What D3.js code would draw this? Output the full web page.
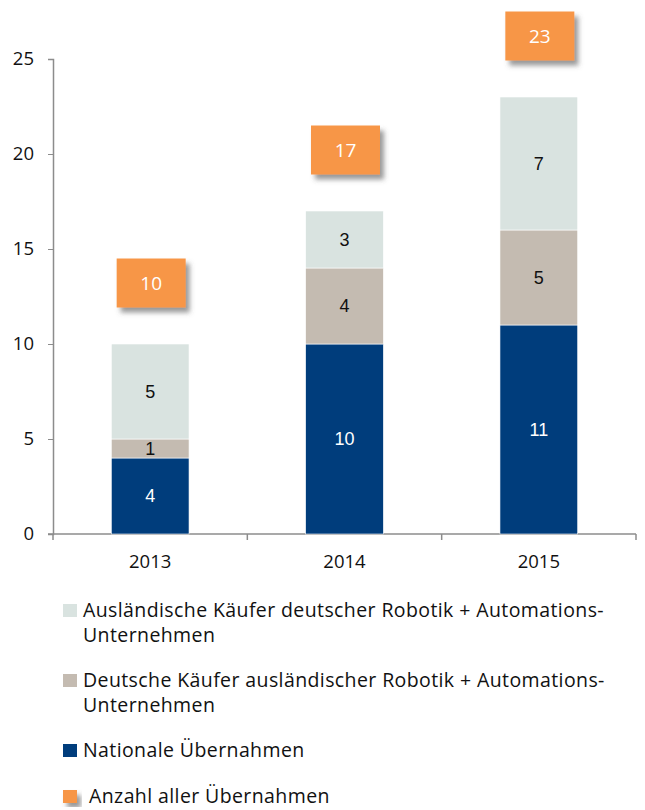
<!DOCTYPE html>
<meta charset="utf-8">
<style>
  body { margin: 0; background: #fff; }
  svg text { font-family: 'Open Sans', 'Noto Sans', sans-serif; }
  .axis path, .axis line { stroke: #8c8c8c; }
</style>
<body>
<div class="viz"></div>
<script src="https://cdnjs.cloudflare.com/ajax/libs/d3/7.8.5/d3.min.js"></script>
<script>
// chart data
const years = ["2013", "2014", "2015"];
const nationale = [4, 10, 11];
const deutscheKaeufer = [1, 4, 5];
const auslaendischeKaeufer = [5, 3, 7];
const totals = [10, 17, 23];
const yTicks = [0, 5, 10, 15, 20, 25];

const seriesNames = ["Nationale Übernahmen", "Deutsche Käufer", "Ausländische Käufer"];
const seriesColors = ["#003d7c", "#c4bbb1", "#d9e3e0"];
const labelColors = ["#fff", "#111", "#111"];

const legendLabels = [
  ["Ausländische Käufer deutscher Robotik + Automations-", "Unternehmen"],
  ["Deutsche Käufer ausländischer Robotik + Automations-", "Unternehmen"],
  ["Nationale Übernahmen"],
  ["Anzahl aller Übernahmen"]
];
const legendColors = ["#d9e3e0", "#c4bbb1", "#003d7c", "#f79646"];

const W = 645, H = 810;
const plot = {left: 53, right: 636, top: 59, bottom: 534};

const svg = d3.select(".viz").append("svg")
    .attr("width", W)
    .attr("height", H);

const defs = svg.append("defs");
const shadow = defs.append("filter").attr("id", "shadow")
    .attr("x", "-20%").attr("y", "-20%").attr("width", "150%").attr("height", "150%");
shadow.append("feDropShadow")
    .attr("dx", 4).attr("dy", 5).attr("stdDeviation", 2.5)
    .attr("flood-color", "#555").attr("flood-opacity", 0.6);

const x = d3.scaleBand().domain(years).range([plot.left, plot.right]).padding(0);
const y = d3.scaleLinear().domain([0, 25]).range([plot.bottom, plot.top]);
const barW = x.bandwidth() * 0.4;

// stack the three series
const rows = years.map((yr, i) => ({
  year: yr, s0: nationale[i], s1: deutscheKaeufer[i], s2: auslaendischeKaeufer[i]
}));
const stacked = d3.stack().keys(["s0", "s1", "s2"])(rows);

// axes
const yAxis = svg.append("g")
    .attr("class", "axis")
    .attr("transform", "translate(" + plot.left + ",0)")
    .call(d3.axisLeft(y).tickValues(yTicks).tickSizeInner(5).tickSizeOuter(5).tickPadding(14));
yAxis.select(".domain").attr("stroke-width", 1.5);
yAxis.selectAll("text").style("font-size", "18.5px").attr("fill", "#111");

const xAxis = svg.append("g")
    .attr("class", "axis")
    .attr("transform", "translate(0," + plot.bottom + ")");
xAxis.append("line")
    .attr("x1", plot.left - 5).attr("x2", plot.right)
    .attr("stroke", "#8c8c8c").attr("stroke-width", 1.5);
xAxis.selectAll(".sep")
    .data(years.map(d => x(d)).concat([plot.right]))
    .enter().append("line")
    .attr("x1", d => d).attr("x2", d => d)
    .attr("y1", 0).attr("y2", 6)
    .attr("stroke", "#8c8c8c").attr("stroke-width", 1.5);
xAxis.selectAll(".lbl")
    .data(years)
    .enter().append("text")
    .attr("x", d => x(d) + x.bandwidth() / 2)
    .attr("y", 34)
    .attr("text-anchor", "middle")
    .style("font-size", "18.5px")
    .attr("fill", "#111")
    .text(d => d);

// bars
const layers = svg.selectAll(".layer")
    .data(stacked)
    .enter().append("g")
    .attr("class", "layer")
    .attr("fill", (d, i) => seriesColors[i]);

layers.selectAll("rect")
    .data(d => d)
    .enter().append("rect")
    .attr("x", d => x(d.data.year) + (x.bandwidth() - barW) / 2)
    .attr("y", d => y(d[1]))
    .attr("width", barW)
    .attr("height", d => y(d[0]) - y(d[1]))
    .attr("stroke", "#fff")
    .attr("stroke-width", 0.6);

layers.each(function(layer, i) {
  d3.select(this).selectAll("text")
    .data(layer)
    .enter().append("text")
    .attr("x", d => x(d.data.year) + x.bandwidth() / 2)
    .attr("y", d => (y(d[0]) + y(d[1])) / 2)
    .attr("dy", "0.36em")
    .attr("text-anchor", "middle")
    .style("font-family", "'Liberation Sans', Arial, sans-serif")
    .style("font-size", "18px")
    .attr("fill", labelColors[i])
    .text(d => d[1] - d[0]);
});

// total boxes
const boxW = 69, boxH = 49;
const boxes = svg.selectAll(".total")
    .data(years.map((yr, i) => ({year: yr, total: totals[i]})))
    .enter().append("g")
    .attr("class", "total")
    .attr("transform", d => "translate(" + (x(d.year) + x.bandwidth() / 2 + 1) + "," + (y(d.total) - 61) + ")");
boxes.append("rect")
    .attr("x", -boxW / 2).attr("y", -boxH / 2)
    .attr("width", boxW).attr("height", boxH)
    .attr("fill", "#f79646")
    .attr("filter", "url(#shadow)");
boxes.append("text")
    .attr("dy", "0.36em")
    .attr("text-anchor", "middle")
    .style("font-size", "19px")
    .attr("fill", "#fff")
    .text(d => d.total);

// legend
const legend = svg.append("g").attr("class", "legend");
let ly = 610;
legendLabels.forEach((lines, i) => {
  const g = legend.append("g").attr("transform", "translate(0," + ly + ")");
  const isTotal = i === legendLabels.length - 1;
  g.append("rect")
    .attr("x", 63).attr("y", -6)
    .attr("width", 14).attr("height", 13)
    .attr("fill", legendColors[i])
    .attr("filter", isTotal ? "url(#shadow)" : null);
  g.selectAll("text")
    .data(lines)
    .enter().append("text")
    .attr("x", isTotal ? 89 : 83)
    .attr("y", (d, j) => j * 25)
    .attr("dy", "0.34em")
    .style("font-size", "19.5px")
    .style("letter-spacing", "0.4px")
    .attr("fill", "#111")
    .text(d => d);
  ly += lines.length * 24 + 22;
});
</script>
</body>
